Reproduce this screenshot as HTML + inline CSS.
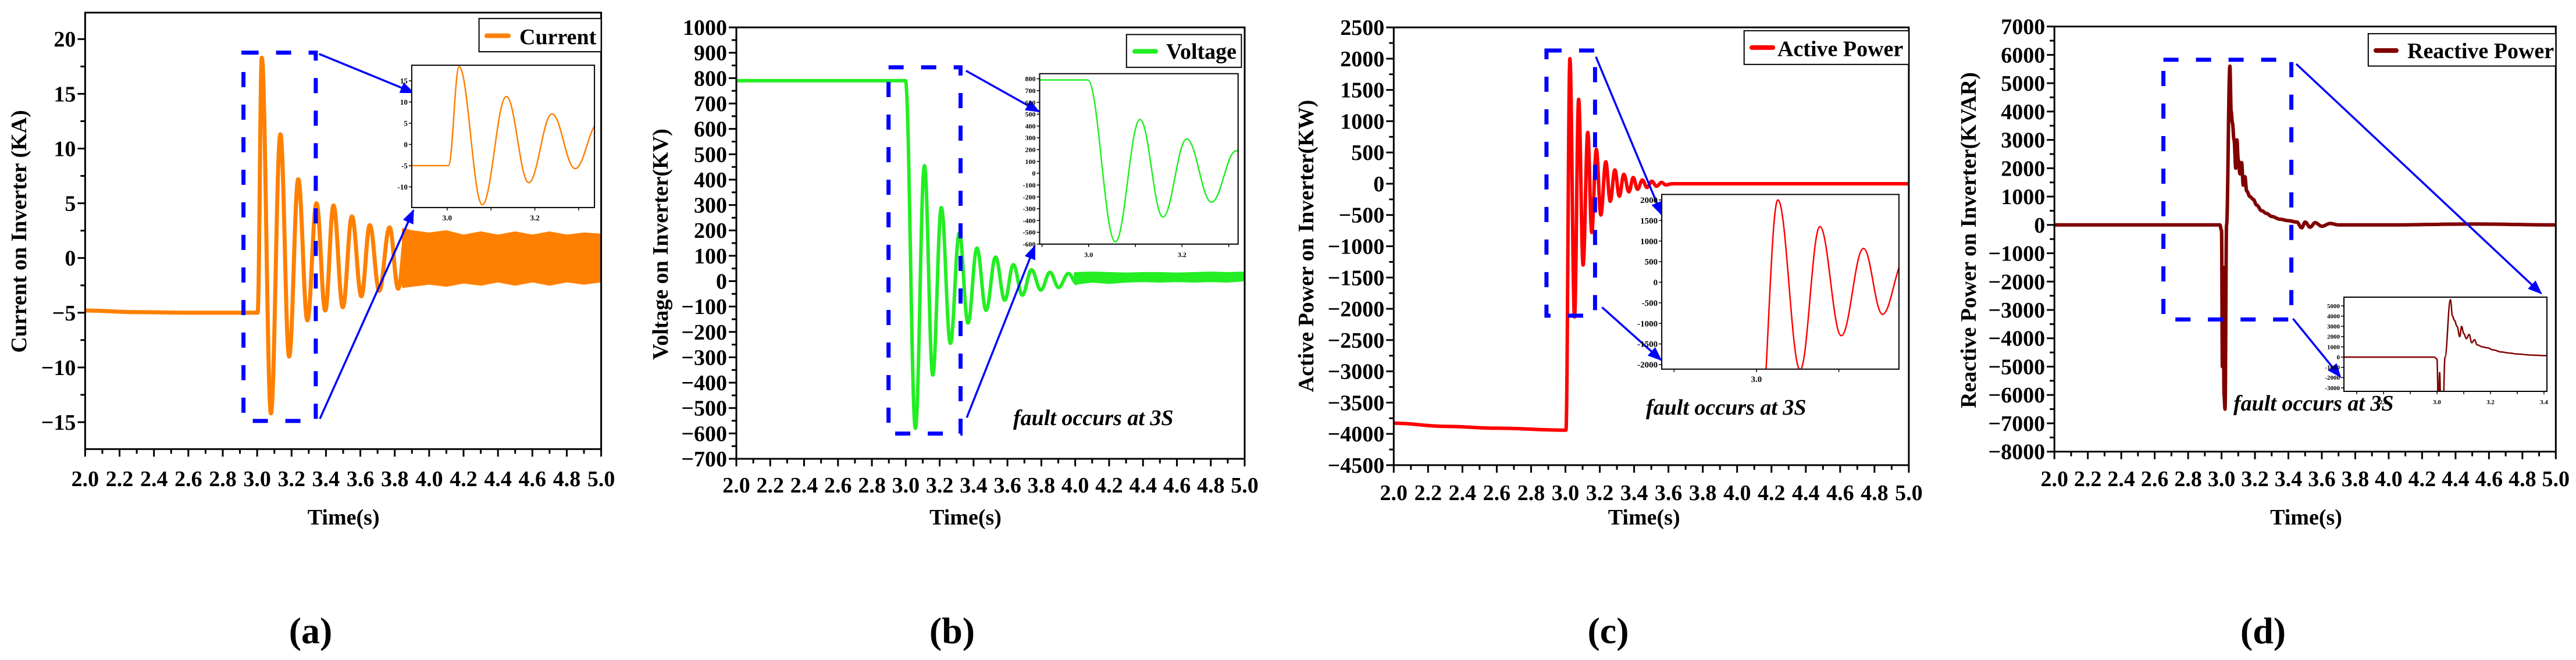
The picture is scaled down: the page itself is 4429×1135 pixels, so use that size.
<!DOCTYPE html>
<html><head><meta charset="utf-8"><style>
html,body{margin:0;padding:0;background:#fff}
svg{display:block}
svg text{font-family:"Liberation Serif","Times New Roman","DejaVu Serif",serif;font-weight:bold;fill:#000}
</style></head><body>
<svg id="fig" width="4429" height="1135" viewBox="0 0 4429 1135" xmlns="http://www.w3.org/2000/svg" font-family="Liberation Serif, Times New Roman, DejaVu Serif, serif">
<defs>
<marker id="ah" viewBox="0 0 10 10" refX="9" refY="5" markerWidth="7" markerHeight="7" orient="auto" markerUnits="strokeWidth"><path d="M0,1 L10,5 L0,9 z" fill="#0000ff"/></marker>
</defs>
</svg>
<script>
// ---------- data ----------
const aT = [2.0, 2.3, 2.6, 3.003, 3.027, 3.08, 3.135, 3.186, 3.239, 3.292, 3.345, 3.396, 3.444, 3.498, 3.551, 3.606, 3.655, 3.71, 3.77, 3.82, 3.87];
const aV = [-4.8, -4.95, -5.0, -5.0, 18.3, -14.2, 11.3, -9.0, 7.2, -5.7, 5.0, -4.8, 4.8, -4.5, 3.8, -3.5, 3.0, -3.0, 2.8, -2.8, 2.6];
const aBandT = [3.85, 3.9, 4.0, 4.1, 4.2, 4.3, 4.4, 4.5, 4.6, 4.7, 4.8, 4.9, 5.0];
const aBandHi = [2.6, 2.4, 2.2, 2.4, 2.0, 2.3, 2.0, 2.3, 2.0, 2.3, 2.0, 2.2, 2.1];
const aBandLo = [-2.6, -2.5, -2.3, -2.5, -2.2, -2.4, -2.1, -2.4, -2.1, -2.4, -2.1, -2.3, -2.1];

const bT = [2.0, 2.5, 2.998, 3.057, 3.11, 3.159, 3.21, 3.263, 3.316, 3.367, 3.42, 3.474, 3.53, 3.584, 3.635, 3.688, 3.742, 3.797, 3.851, 3.902, 3.96, 4.01];
const bV = [790, 790, 790, -580, 455, -370, 290, -245, 190, -165, 130, -115, 95, -75, 65, -55, 45, -35, 35, -25, 30, -10];
const bBandT = [4.0, 4.1, 4.2, 4.3, 4.4, 4.5, 4.6, 4.7, 4.8, 4.9, 5.0];
const bBandHi = [30, 32, 30, 28, 30, 30, 28, 30, 32, 30, 32];
const bBandLo = [-8, 0, -5, 0, 2, 0, 2, 0, 2, 0, 5];

const cT = [2.0, 2.3, 2.6, 2.99, 3.003, 3.026, 3.053, 3.077, 3.103, 3.13, 3.153, 3.18, 3.206, 3.235, 3.261, 3.288, 3.314, 3.34, 3.37, 3.395, 3.42, 3.448, 3.475, 3.503, 3.53, 3.56, 3.585, 3.62, 3.7, 5.0];
const cV = [-3830, -3880, -3910, -3940, -3940, 2000, -2130, 1350, -1300, 820, -780, 550, -500, 350, -280, 220, -200, 150, -130, 100, -90, 60, -60, 40, -40, 20, -20, 0, 0, 0];

const dT = [2.0, 2.99, 3.0, 3.005, 3.01, 3.015, 3.021, 3.03, 3.05, 3.058, 3.065, 3.075, 3.085, 3.092, 3.1, 3.11, 3.12, 3.13, 3.14, 3.15, 3.17, 3.19, 3.21, 3.24, 3.27, 3.3, 3.35, 3.4, 3.45, 3.48, 3.5, 3.53, 3.56, 3.6, 3.65, 3.7, 4.0, 4.5, 5.0];
const dV = [0, 0, -200, -5000, -1500, -6000, -6500, 0, 5600, 4000, 3600, 3000, 2000, 3000, 2300, 1800, 2200, 1400, 1700, 1200, 1000, 900, 700, 500, 400, 300, 200, 150, 100, -100, 100, -80, 80, -50, 50, 0, 0, 30, 0];

const xTickLabels = ["2.0","2.2","2.4","2.6","2.8","3.0","3.2","3.4","3.6","3.8","4.0","4.2","4.4","4.6","4.8","5.0"];

// ---------- helpers ----------
const NS = "http://www.w3.org/2000/svg";
const svg = document.getElementById('fig');
function mk(tag, attrs, parent) {
  const e = document.createElementNS(NS, tag);
  for (const k in attrs) e.setAttribute(k, attrs[k]);
  (parent || svg).appendChild(e);
  return e;
}
function txt(s, attrs, parent) {
  const e = mk('text', attrs, parent);
  e.setAttribute('font-family', 'Liberation Serif, Times New Roman, DejaVu Serif, serif');
  e.textContent = s; return e;
}
function lin(x0, x1, p0, p1) { return v => p0 + (v - x0) / (x1 - x0) * (p1 - p0); }
function smoothPath(T, V, sx, sy) {
  let d = 'M' + sx(T[0]).toFixed(1) + ',' + sy(V[0]).toFixed(1);
  for (let i = 1; i < T.length; i++) {
    const x0 = sx(T[i-1]), y0 = sy(V[i-1]), x1 = sx(T[i]), y1 = sy(V[i]);
    const dx = (x1 - x0) / 2.6;
    d += ' C' + (x0+dx).toFixed(1) + ',' + y0.toFixed(1) + ' ' + (x1-dx).toFixed(1) + ',' + y1.toFixed(1) + ' ' + x1.toFixed(1) + ',' + y1.toFixed(1);
  }
  return d;
}
let clipId = 0;

function panel(c) {
  const g = mk('g', {});
  
  
  const sx = lin(2, 5, c.L, c.R), sy = lin(c.ymin, c.ymax, c.B, c.T);
  const cid = 'clip' + (clipId++);
  const cp = mk('clipPath', {id: cid}, g);
  mk('rect', {x: c.L, y: c.T, width: c.R - c.L, height: c.B - c.T}, cp);
  const sg = mk('g', {'clip-path': 'url(#' + cid + ')'}, g);
  const p = mk('path', {d: smoothPath(c.T_, c.V_, sx, sy), fill: 'none', stroke: c.color, 'stroke-width': c.lw, 'stroke-linejoin': 'round'}, sg);
  
  
  if (c.bT) {
    let d = '';
    c.bT.forEach((t, i) => { d += (i ? 'L' : 'M') + sx(t).toFixed(1) + ',' + sy(c.bHi[i]).toFixed(1); });
    for (let i = c.bT.length - 1; i >= 0; i--) d += 'L' + sx(c.bT[i]).toFixed(1) + ',' + sy(c.bLo[i]).toFixed(1);
    const b = mk('path', {d: d + 'Z', fill: c.color, stroke: c.color, 'stroke-width': 5, 'stroke-linejoin': 'round'}, sg);
    
    
  }
  const fr = mk('rect', {x: c.L, y: c.T, width: c.R - c.L, height: c.B - c.T, fill: 'none', stroke: '#000', 'stroke-width': 3}, g);
  
  
  const yax = mk('g', {}, g);
  
  
  const eps = 1e-9;
  for (let v = c.ylo; v <= c.yhi + eps; v += c.ystep / 2) {
    const major = Math.abs(((v - c.ylo) / c.ystep) - Math.round((v - c.ylo) / c.ystep)) < 1e-6;
    const y = sy(v);
    mk('line', {x1: c.L, x2: c.L - (major ? 13 : 8), y1: y, y2: y, stroke: '#000', 'stroke-width': 3}, yax);
    if (major) {
      const s = (Math.round(v * 100) / 100).toString().replace('-', '\u2212');
      const t = txt(s, {x: c.L - 16, y: y + 13, 'text-anchor': 'end', 'font-size': 38, 'font-weight': 'bold'}, yax);
      
      
    }
  }
  const xax = mk('g', {}, g);
  
  
  for (let i = 0; i <= 30; i++) {
    const t = 2 + i * 0.1, x = sx(t), major = i % 2 === 0;
    mk('line', {x1: x, x2: x, y1: c.B, y2: c.B + (major ? 13 : 8), stroke: '#000', 'stroke-width': 3}, xax);
  }
  xTickLabels.forEach((s, i) => {
    const t = txt(s, {x: sx(2 + i * 0.2), y: c.xlabY, 'text-anchor': 'middle', 'font-size': 38, 'font-weight': 'bold'}, xax);
    
    
  });
  const xt = txt('Time(s)', {x: c.xtX, y: 902, 'text-anchor': 'middle', 'font-size': 38, 'font-weight': 'bold'}, g);
  
  
  const yt = txt(c.ytitle, {x: 0, y: 0, 'text-anchor': 'middle', 'font-size': 38, 'font-weight': 'bold', transform: 'translate(' + (c.ytX + 13) + ',' + c.ytY + ') rotate(-90)'}, g);
  
  
  const zr = mk('rect', {x: c.zr[0], y: c.zr[1], width: c.zr[2] - c.zr[0], height: c.zr[3] - c.zr[1], fill: 'none', stroke: '#0000ff', 'stroke-width': 7, 'stroke-dasharray': '26 30'}, g);
  
  
  c.arrows.forEach(a => {
    const l = mk('line', {x1: a[0], y1: a[1], x2: a[2], y2: a[3], stroke: '#0000ff', 'stroke-width': 3.5, 'marker-end': 'url(#ah)'}, g);
    
    
  });
  const I = c.inset;
  const ig = mk('g', {}, g);
  
  
  mk('rect', {x: I.x0, y: I.y0, width: I.x1 - I.x0, height: I.y1 - I.y0, fill: '#fff'}, ig);
  const isx = lin(I.tmin, I.tmax, I.x0, I.x1), isy = lin(I.vmin, I.vmax, I.y1, I.y0);
  const icid = 'clip' + (clipId++);
  const icp = mk('clipPath', {id: icid}, ig);
  mk('rect', {x: I.x0, y: I.y0, width: I.x1 - I.x0, height: I.y1 - I.y0}, icp);
  const ip = mk('path', {d: smoothPath(c.T_, c.V_, isx, isy), fill: 'none', stroke: c.color, 'stroke-width': 2.5, 'clip-path': 'url(#' + icid + ')'}, ig);
  
  
  mk('rect', {x: I.x0, y: I.y0, width: I.x1 - I.x0, height: I.y1 - I.y0, fill: 'none', stroke: '#000', 'stroke-width': 2}, ig);
  for (let v = I.ylo; v <= I.yhi + eps; v += I.ystep) {
    const y = isy(v);
    mk('line', {x1: I.x0, x2: I.x0 - 5, y1: y, y2: y, stroke: '#000', 'stroke-width': 1.5}, ig);
    const t = txt(String(v), {x: I.x0 - 7, y: y + I.fs * 0.35, 'text-anchor': 'end', 'font-size': I.fs, 'font-weight': 'normal'}, ig);
    
    
  }
  I.xt.forEach((t, i) => {
    const x = isx(t);
    mk('line', {x1: x, x2: x, y1: I.y1, y2: I.y1 + 5, stroke: '#000', 'stroke-width': 1.5}, ig);
    if (I.xl[i]) {
      const e = txt(I.xl[i], {x: x, y: I.y1 + 22, 'text-anchor': 'middle', 'font-size': I.fs, 'font-weight': 'normal'}, ig);
      
      
    }
  });
  const lg = mk('g', {}, g);
  
  
  mk('rect', {x: c.leg[0], y: c.leg[1], width: c.leg[2] - c.leg[0], height: c.leg[3] - c.leg[1], fill: '#fff', stroke: '#000', 'stroke-width': 2}, lg);
  mk('line', {x1: c.legLine[0], x2: c.legLine[1], y1: c.legLine[2], y2: c.legLine[2], stroke: c.color, 'stroke-width': 8, 'stroke-linecap': 'round'}, lg);
  txt(c.legText, {x: c.legTxt[0], y: c.legTxt[1], 'font-size': 38, 'font-weight': 'bold'}, lg);
  if (c.fault) {
    const f = txt('fault occurs at 3S', {x: c.fault[0], y: c.fault[1], 'font-size': 38, 'font-weight': 'bold', 'font-style': 'italic'}, g);
    
    
  }
  const cap = txt(c.cap, {x: c.capX, y: 1106, 'text-anchor': 'middle', 'font-size': 64, 'font-weight': 'bold'}, g);
  
  
}

panel({name: 'current', L: 146.4, R: 1033.6, T: 21.7, B: 772.3, ymin: -17.46, ymax: 22.42, ylo: -15, yhi: 20, ystep: 5,
  T_: aT, V_: aV, bT: aBandT, bHi: aBandHi, bLo: aBandLo, color: '#ff8000', lw: 7,
  xlabY: 836, xtX: 590.7, ytitle: 'Current on Inverter (KA)', ytX: 32, ytY: 398,
  zr: [418.6, 90.5, 542.9, 723.9], arrows: [[548.6, 92.7, 710.7, 159.2], [550, 720.2, 710.7, 361.9]],
  inset: {x0: 707.9, x1: 1022.1, y0: 112.2, y1: 356.9, tmin: 2.919, tmax: 3.336, vmin: -14.87, vmax: 18.67, ylo: -10, yhi: 15, ystep: 5, fs: 13,
    xt: [3.0, 3.1, 3.2, 3.3], xl: ['3.0', '', '3.2', '']},
  leg: [823.6, 31.8, 1033.6, 89], legLine: [837, 874, 61.5], legText: 'Current', legTxt: [893, 76],
  cap: '(a)', capX: 534});

panel({name: 'voltage', L: 1266, R: 2140, T: 47.1, B: 789, ymin: -700, ymax: 1000, ylo: -700, yhi: 1000, ystep: 100,
  T_: bT, V_: bV, bT: bBandT, bHi: bBandHi, bLo: bBandLo, color: '#22ee22', lw: 6,
  xlabY: 847, xtX: 1660, ytitle: 'Voltage on Inverter(KV)', ytX: 1135, ytY: 420,
  zr: [1527.7, 115.8, 1651.5, 745.6], arrows: [[1660.8, 121.6, 1786, 191.8], [1662.2, 718.1, 1779, 423.5]],
  inset: {x0: 1787.5, x1: 2128.7, y0: 126.7, y1: 419.8, tmin: 2.895, tmax: 3.32, vmin: -600, vmax: 843, ylo: -600, yhi: 800, ystep: 100, fs: 12,
    xt: [2.9, 3.0, 3.1, 3.2, 3.3], xl: ['', '3.0', '', '3.2', '']},
  leg: [1936.8, 59.4, 2134.4, 115.8], legLine: [1951, 1987, 88.3], legText: 'Voltage', legTxt: [2005, 101],
  fault: [1742, 731], cap: '(b)', capX: 1637});

panel({name: 'active-power', L: 2396.3, R: 3281.9, T: 47.1, B: 799.9, ymin: -4500, ymax: 2500, ylo: -4500, yhi: 2500, ystep: 500,
  T_: cT, V_: cV, color: '#ff0000', lw: 6,
  xlabY: 860, xtX: 2826.7, ytitle: 'Active Power on Inverter(KW)', ytX: 2245, ytY: 423,
  zr: [2658.9, 86.9, 2742.4, 542.9], arrows: [[2743.9, 97.7, 2857.1, 369.2], [2754.5, 528.4, 2855.7, 618.9]],
  inset: {x0: 2857.1, x1: 3264.9, y0: 334.4, y1: 634.8, tmin: 2.885, tmax: 3.173, vmin: -2112, vmax: 2133, ylo: -2000, yhi: 2000, ystep: 500, fs: 15,
    xt: [2.9, 3.0, 3.1], xl: ['', '3.0', '']},
  leg: [2998.7, 52.8, 3281.9, 110.8], legLine: [3012, 3048, 81.8], legText: 'Active Power', legTxt: [3056, 96.3],
  fault: [2830, 713], cap: '(c)', capX: 2765});

panel({name: 'reactive-power', L: 3532.2, R: 4394.3, T: 45.6, B: 776.7, ymin: -8000, ymax: 7000, ylo: -8000, yhi: 7000, ystep: 1000,
  T_: dT, V_: dV, color: '#800000', lw: 6,
  xlabY: 836, xtX: 3965, ytitle: 'Reactive Power on Inverter(KVAR)', ytX: 3384, ytY: 413,
  zr: [3719.6, 102.8, 3939.6, 549.4], arrows: [[3948, 110, 4368.9, 504.5], [3942.4, 548, 4023.7, 647.8]],
  inset: {x0: 4030, x1: 4379, y0: 511, y1: 673, tmin: 2.652, tmax: 3.411, vmin: -3340, vmax: 5850, ylo: -3000, yhi: 5000, ystep: 1000, fs: 11,
    xt: [2.7, 2.8, 2.9, 3.0, 3.1, 3.2, 3.3, 3.4], xl: ['', '2.8', '', '3.0', '', '3.2', '', '3.4']},
  leg: [4071.8, 57.9, 4394.3, 113.6], legLine: [4085, 4120, 86.9], legText: 'Reactive Power', legTxt: [4139, 100],
  fault: [3840, 706], cap: '(d)', capX: 3891});
</script>
</body></html>
